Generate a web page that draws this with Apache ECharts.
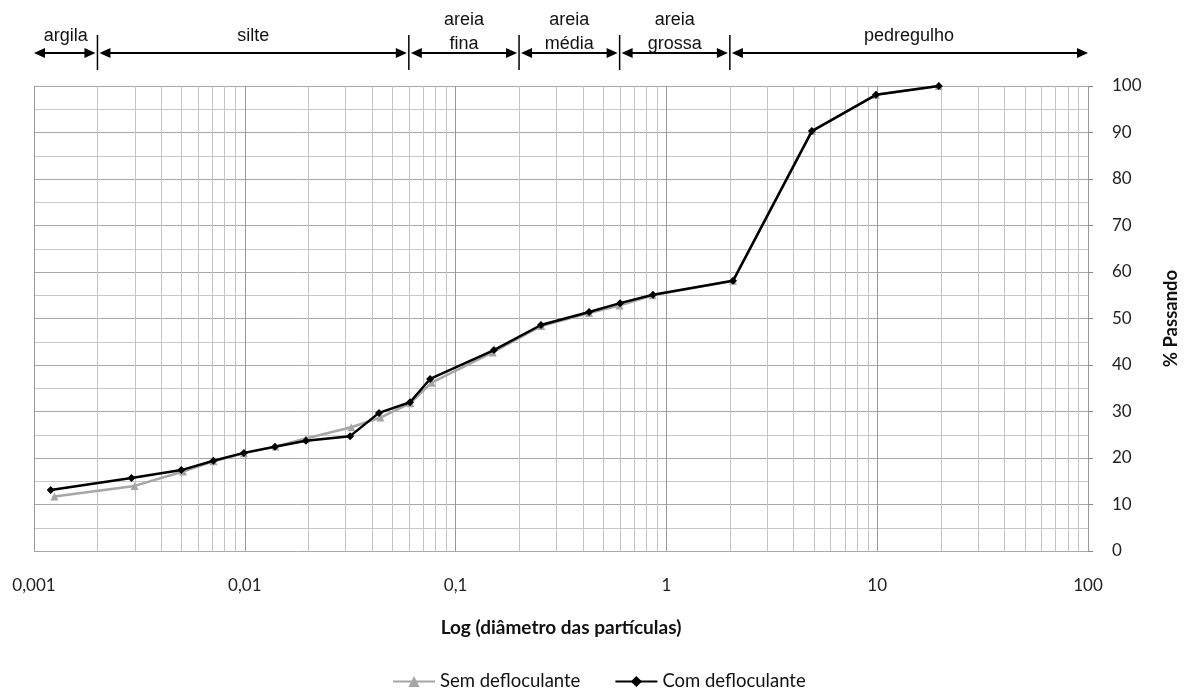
<!DOCTYPE html>
<html>
<head>
<meta charset="utf-8">
<script src="https://cdn.jsdelivr.net/npm/echarts@6/dist/echarts.min.js"></script>
<style>
  html, body { margin: 0; padding: 0; background: #fff; }
  #chart { width: 1185px; height: 690px; }
</style>
</head>
<body>
<div id="chart"></div>
<script>
// particle diameter (mm) and % passing
const diamCom = [0.0012, 0.0029, 0.0050, 0.0071, 0.0099, 0.0139, 0.0195, 0.0316, 0.0433, 0.0608, 0.0757, 0.152, 0.254, 0.43, 0.603, 0.864, 2.07, 4.9, 9.86, 19.6];
const passCom = [13.1, 15.7, 17.4, 19.4, 21.1, 22.4, 23.7, 24.7, 29.7, 32.0, 37.0, 43.2, 48.6, 51.4, 53.3, 55.1, 58.1, 90.3, 98.1, 100];
const diamSem = [0.00125, 0.003, 0.0051, 0.0071, 0.0099, 0.014, 0.0195, 0.032, 0.044, 0.061, 0.077, 0.15, 0.255, 0.43, 0.6, 0.86, 2.07, 4.9, 9.86, 19.6];
const passSem = [11.7, 14.0, 17.1, 19.3, 21.0, 22.5, 24.2, 26.6, 28.7, 31.8, 36.2, 42.7, 48.4, 51.2, 52.8, 55.0, 58.1, 90.3, 98.1, 100];

const xTickValues = [0.001, 0.01, 0.1, 1, 10, 100];
const xTickLabels = ['0,001', '0,01', '0,1', '1', '10', '100'];

// soil fraction bands on top
const bandStart = [0.001, 0.002, 0.06, 0.2, 0.6, 2];
const bandEnd = [0.002, 0.06, 0.2, 0.6, 2, 100];
const bandNames = ['argila', 'silte', 'areia\nfina', 'areia\nmédia', 'areia\ngrossa', 'pedregulho'];

// minor vertical grid lines (2..9 of each decade)
const minorX = [];
[0.001, 0.01, 0.1, 1, 10].forEach(d => {
  for (let k = 2; k <= 9; k++) minorX.push(+(d * k).toPrecision(3));
});

const chart = echarts.init(document.getElementById('chart'));

function arrowHead(tipX, y, dir) {
  return {
    type: 'polygon',
    shape: { points: [[tipX, y], [tipX - dir * 11, y - 5], [tipX - dir * 11, y + 5]] },
    style: { fill: '#000' }
  };
}

const option = {
  animation: false,
  textStyle: { fontFamily: 'Lato, sans-serif' },
  grid: { left: 34, right: 97, top: 86, bottom: 139, outerBoundsMode: 'none' },
  legend: {
    top: 667,
    left: 387,
    itemGap: 34,
    itemWidth: 42,
    textStyle: { fontFamily: 'Lato, sans-serif', fontSize: 18.5, color: '#111' },
    data: ['Sem defloculante', 'Com defloculante']
  },
  xAxis: {
    type: 'log',
    logBase: 10,
    min: 0.001,
    max: 100,
    name: 'Log (diâmetro das partículas)',
    nameLocation: 'middle',
    nameGap: 67,
    nameTextStyle: { fontFamily: 'Lato, sans-serif', fontWeight: 'bold', fontSize: 19, color: '#111' },
    axisLine: { show: false },
    axisTick: { show: false },
    axisLabel: {
      margin: 26,
      fontSize: 17,
      color: '#222',
      formatter: v => {
        const i = xTickValues.findIndex(t => Math.abs(Math.log10(t) - Math.log10(v)) < 1e-6);
        return i >= 0 ? xTickLabels[i] : '';
      }
    },
    splitLine: { show: true, lineStyle: { color: '#999', width: 1 } }
  },
  yAxis: {
    type: 'value',
    position: 'right',
    min: 0,
    max: 100,
    interval: 10,
    name: '% Passando',
    nameLocation: 'middle',
    nameRotate: 90,
    nameGap: 74,
    nameTextStyle: { fontFamily: 'Lato, sans-serif', fontWeight: 'bold', fontSize: 18.5, color: '#111' },
    axisLine: { show: false },
    axisTick: { show: true, length: 5, lineStyle: { color: '#888' } },
    axisLabel: { margin: 24, fontSize: 17, color: '#222' },
    splitLine: { show: true, lineStyle: { color: '#a8a8a8' } },
    minorTick: { show: false, splitNumber: 2 },
    minorSplitLine: { show: true, lineStyle: { color: '#c8c8c8' } }
  },
  series: [
    {
      type: 'custom',
      silent: true,
      z: 1,
      data: minorX.map(v => [v]),
      renderItem: (params, api) => {
        const p0 = api.coord([api.value(0), 0]);
        const p1 = api.coord([api.value(0), 100]);
        return {
          type: 'line',
          shape: { x1: Math.round(p0[0]) + 0.5, y1: p0[1], x2: Math.round(p0[0]) + 0.5, y2: p1[1] },
          style: { stroke: '#c4c4c4', lineWidth: 1 }
        };
      }
    },
    {
      type: 'custom',
      silent: true,
      clip: false,
      z: 3,
      data: bandStart.map((s, i) => [s, bandEnd[i]]),
      renderItem: (params, api) => {
        const i = params.dataIndex;
        const a = api.coord([api.value(0), 100]);
        const b = api.coord([api.value(1), 100]);
        const top = a[1];
        const y = top - 33;
        const x0 = a[0] + (i === 0 ? 0 : 2);
        const x1 = b[0] - (i === bandStart.length - 1 ? 0 : 2);
        const name = bandNames[i];
        const multi = name.indexOf('\n') >= 0;
        const children = [
          { type: 'line', shape: { x1: x0 + 4, y1: y, x2: x1 - 4, y2: y }, style: { stroke: '#000', lineWidth: 2 } },
          arrowHead(x0, y, -1),
          arrowHead(x1, y, 1),
          {
            type: 'text',
            style: {
              text: name,
              x: (a[0] + b[0]) / 2,
              y: multi ? top - 54 : top - 50,
              align: 'center',
              verticalAlign: 'middle',
              lineHeight: 24,
              fontSize: 18,
              fontFamily: 'Liberation Sans, Arial, sans-serif',
              fill: '#111'
            }
          }
        ];
        if (i > 0) {
          children.push({
            type: 'line',
            shape: { x1: a[0], y1: top - 51, x2: a[0], y2: top - 16 },
            style: { stroke: '#000', lineWidth: 1.5 }
          });
        }
        return { type: 'group', children };
      }
    },
    {
      name: 'Sem defloculante',
      type: 'line',
      z: 4,
      data: diamSem.map((d, i) => [d, passSem[i]]),
      symbol: 'triangle',
      symbolSize: 8,
      lineStyle: { color: '#a6a6a6', width: 2.5 },
      itemStyle: { color: '#a6a6a6' }
    },
    {
      name: 'Com defloculante',
      type: 'line',
      z: 5,
      data: diamCom.map((d, i) => [d, passCom[i]]),
      symbol: 'diamond',
      symbolSize: 8,
      lineStyle: { color: '#000', width: 2.5 },
      itemStyle: { color: '#000' }
    }
  ]
};

chart.setOption(option);
</script>
</body>
</html>
